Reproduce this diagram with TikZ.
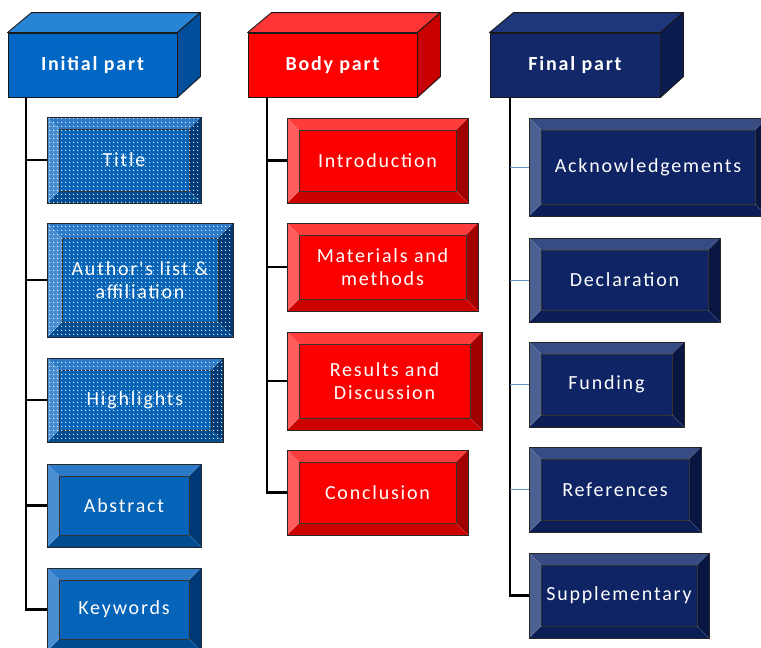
\documentclass[tikz,border=0pt]{standalone}
\usepackage{fontspec}
\newfontfamily\boxfont{Carlito}[LetterSpace=9]
\usetikzlibrary{patterns.meta,calc}
% Initial (blue)
\definecolor{iniF}{RGB}{0,104,196}
\definecolor{iniT}{RGB}{40,132,212}
\definecolor{iniS}{RGB}{0,78,156}
\definecolor{ibF}{RGB}{6,100,184}
\definecolor{ibL}{RGB}{74,142,210}
\definecolor{ibT}{RGB}{44,122,200}
\definecolor{ibR}{RGB}{0,58,118}
\definecolor{ibB}{RGB}{0,76,146}
% Body (red)
\definecolor{bodF}{RGB}{255,0,0}
\definecolor{bodT}{RGB}{255,52,52}
\definecolor{bodS}{RGB}{200,0,0}
\definecolor{rbF}{RGB}{250,0,0}
\definecolor{rbL}{RGB}{255,92,92}
\definecolor{rbT}{RGB}{255,60,60}
\definecolor{rbR}{RGB}{160,0,0}
\definecolor{rbB}{RGB}{205,0,0}
% Final (navy)
\definecolor{finF}{RGB}{18,40,105}
\definecolor{finT}{RGB}{30,54,122}
\definecolor{finS}{RGB}{10,28,80}
\definecolor{nbF}{RGB}{15,36,100}
\definecolor{nbL}{RGB}{76,96,146}
\definecolor{nbT}{RGB}{56,76,132}
\definecolor{nbR}{RGB}{8,22,65}
\definecolor{nbB}{RGB}{12,30,86}
\definecolor{thinblue}{RGB}{96,146,190}

\tikzdeclarepattern{
  name=mydots,
  type=uncolored,
  bounding box={(0,0) and (4pt,4pt)},
  tile size={(4pt,4pt)},
  code={\fill (2pt,2pt) circle (0.8pt);}
}

\newif\ifbvdots
\tikzset{
  bv/.store in=\bvw, bv=12,
  dotted box/.code={\bvdotstrue},
  bevelbox/.style n args={5}{rectangle, draw=black!85, line width=0.8pt, fill=#1,
    inner sep=0pt, align=center, text=white,
    font=\boxfont\fontsize{20}{23}\selectfont,
    path picture={
      \coordinate (pA) at (path picture bounding box.north west);
      \coordinate (pB) at (path picture bounding box.north east);
      \coordinate (pC) at (path picture bounding box.south east);
      \coordinate (pD) at (path picture bounding box.south west);
      \coordinate (qA) at ([shift={(\bvw pt,-\bvw pt)}]pA);
      \coordinate (qB) at ([shift={(-\bvw pt,-\bvw pt)}]pB);
      \coordinate (qC) at ([shift={(-\bvw pt,\bvw pt)}]pC);
      \coordinate (qD) at ([shift={(\bvw pt,\bvw pt)}]pD);
      \fill[#3] (pA) -- (pB) -- (qB) -- (qA) -- cycle;
      \fill[#4] (pB) -- (pC) -- (qC) -- (qB) -- cycle;
      \fill[#5] (pC) -- (pD) -- (qD) -- (qC) -- cycle;
      \fill[#2] (pD) -- (pA) -- (qA) -- (qD) -- cycle;
      \draw[black!80, line width=0.7pt] (qA) -- (qB) -- (qC) -- (qD) -- cycle;
      \draw[white, opacity=0.25, line width=0.5pt] (pA) -- (qA) (pB) -- (qB) (pC) -- (qC) (pD) -- (qD);
      \ifbvdots
        \fill[pattern=mydots, pattern color=white!90!ibL] (pA) rectangle (pC);
      \fi
    }},
  bluebox/.style={bevelbox={ibF}{ibL}{ibT}{ibR}{ibB}},
  redbox/.style={bevelbox={rbF}{rbL}{rbT}{rbR}{rbB}},
  navybox/.style={bevelbox={nbF}{nbL}{nbT}{nbR}{nbB}},
  hdr/.style={rectangle, draw=black!90, line width=0.9pt, inner sep=0pt,
    text=white, font=\boxfont\bfseries\fontsize{20}{23}\selectfont},
  hdrface/.style={draw=black!90, line width=0.9pt, line join=round},
  conn/.style={draw=black, line width=2.8pt, line join=miter},
  thinconn/.style={draw=thinblue, line width=1pt},
}

\begin{document}
\begin{tikzpicture}[x=1pt,y=-1pt]
\useasboundingbox (0,0) rectangle (761,648);
\clip (0,0) rectangle (761,648);
\fill[white] (0,0) rectangle (761,648);

% ---------- headers ----------
\node[hdr, fill=iniF, minimum width=169pt, minimum height=64pt] (h1) at (92.5,65) {Initial part};
\node[hdr, fill=bodF, minimum width=169pt, minimum height=64pt] (h2) at (332.5,65) {Body part};
\node[hdr, fill=finF, minimum width=170pt, minimum height=64pt] (h3) at (575,65) {Final part};

\foreach \h/\tc/\sc in {h1/iniT/iniS, h2/bodT/bodS, h3/finT/finS}{
  \filldraw[hdrface, fill=\tc] (\h.north west) -- ++(24,-20) -- ($(\h.north east)+(23,-20)$) -- (\h.north east) -- cycle;
  \filldraw[hdrface, fill=\sc] (\h.north east) -- ++(23,-20) -- ++(0,64) -- (\h.south east) -- cycle;
}

% ---------- trunk coordinates ----------
\coordinate (t1) at (26,97);
\coordinate (t2) at (267,97);
\coordinate (t3) at (510,97);

% ---------- initial children ----------
\node[bluebox, dotted box, minimum width=154pt, minimum height=86pt] (title) at (124,160) {Title};
\node[bluebox, dotted box, bv=15, minimum width=186pt, minimum height=114pt] (auth) at (140,280) {Author's list \&\\affiliation};
\node[bluebox, dotted box, minimum width=176pt, minimum height=84pt] (high) at (135,400) {Highlights};
\node[bluebox, minimum width=154pt, minimum height=83pt] (abs) at (124,505.5) {Abstract};
\node[bluebox, minimum width=154pt, minimum height=83pt] (kw) at (124,609.5) {Keywords};

% ---------- body children ----------
\node[redbox, minimum width=181pt, minimum height=85pt] (intro) at (377.5,160.5) {Introduction};
\node[redbox, minimum width=191pt, minimum height=88pt] (mat) at (382.5,267) {Materials and\\methods};
\node[redbox, minimum width=195pt, minimum height=98pt] (res) at (384.5,381) {Results and\\Discussion};
\node[redbox, minimum width=181pt, minimum height=85pt] (conc) at (377.5,492.5) {Conclusion};

% ---------- final children ----------
\node[navybox, minimum width=238pt, minimum height=98pt] (ack) at (648,167) {Acknowledgements};
\node[navybox, minimum width=191pt, minimum height=84pt] (decl) at (624.5,280) {Declaration};
\node[navybox, minimum width=155pt, minimum height=85pt] (fund) at (606.5,384.5) {Funding};
\node[navybox, minimum width=172pt, minimum height=85pt] (refs) at (615,489.5) {References};
\node[navybox, minimum width=180pt, minimum height=85pt] (supp) at (619,595.5) {Supplementary};

% ---------- connectors ----------
\draw[conn] (t1) |- (kw.west);
\foreach \n in {title,auth,high,abs}{\draw[conn] (t1 |- \n.west) -- (\n.west);}
\draw[conn] (t2) |- (conc.west);
\foreach \n in {intro,mat,res}{\draw[conn] (t2 |- \n.west) -- (\n.west);}
\draw[conn] (t3) |- (supp.west);
\foreach \n in {ack,decl,fund,refs}{\draw[thinconn] (t3 |- \n.west) -- (\n.west);}
\end{tikzpicture}
\end{document}
